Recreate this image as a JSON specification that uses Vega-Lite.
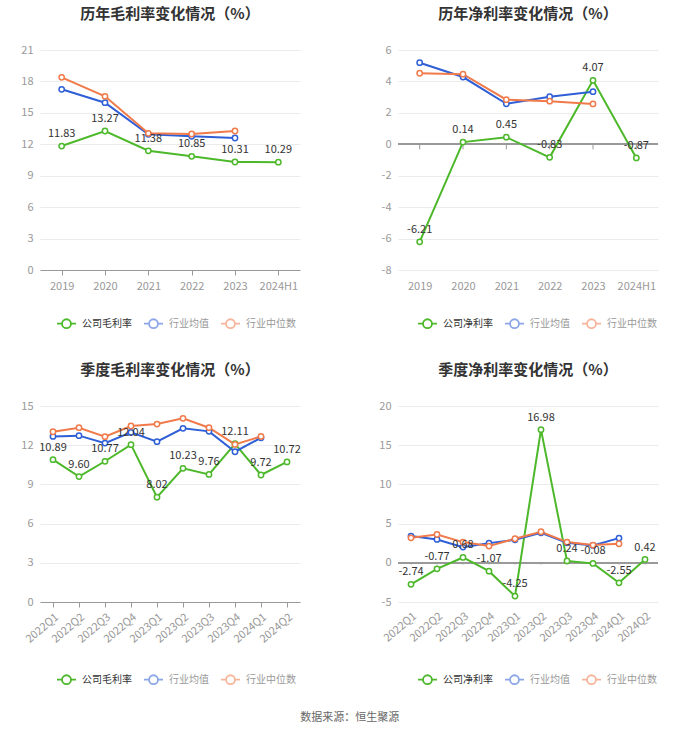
{
  "$schema": "https://vega.github.io/schema/vega-lite/v6.json",
  "background": "white",
  "padding": {"left": 20, "top": 7, "right": 20, "bottom": 8},
  "config": {
    "font": "Noto Sans CJK SC",
    "locale": {"number": {"decimal": ".", "thousands": ",", "grouping": [3], "currency": ["", ""], "minus": "-"}},
    "view": {"stroke": null},
    "legend": {
      "orient": "none",
      "direction": "horizontal",
      "title": null,
      "symbolType": "M-1,0L-0.47,0M0.47,0L1,0M0.47,0A0.47,0.47,0,1,1,-0.47,0A0.47,0.47,0,1,1,0.47,0",
      "symbolSize": 361,
      "symbolStrokeWidth": 1.8,
      "labelFontSize": 10,
      "labelColor": "#333",
      "labelOffset": 5,
      "columnPadding": 8,
      "padding": 0
    }
  },
  "title": {"text": "数据来源：恒生聚源", "orient": "bottom", "anchor": "middle", "fontSize": 11, "fontWeight": "normal", "color": "#666", "offset": 24, "dx": 10},
  "datasets": {
    "p1": [
      {"cat": "2019", "series": "公司毛利率", "value": 11.83},
      {"cat": "2020", "series": "公司毛利率", "value": 13.27},
      {"cat": "2021", "series": "公司毛利率", "value": 11.38},
      {"cat": "2022", "series": "公司毛利率", "value": 10.85},
      {"cat": "2023", "series": "公司毛利率", "value": 10.31},
      {"cat": "2024H1", "series": "公司毛利率", "value": 10.29},
      {"cat": "2019", "series": "行业均值", "value": 17.25},
      {"cat": "2020", "series": "行业均值", "value": 15.97},
      {"cat": "2021", "series": "行业均值", "value": 12.95},
      {"cat": "2022", "series": "行业均值", "value": 12.76},
      {"cat": "2023", "series": "行业均值", "value": 12.6},
      {"cat": "2019", "series": "行业中位数", "value": 18.39},
      {"cat": "2020", "series": "行业中位数", "value": 16.58},
      {"cat": "2021", "series": "行业中位数", "value": 13.05},
      {"cat": "2022", "series": "行业中位数", "value": 12.98},
      {"cat": "2023", "series": "行业中位数", "value": 13.27}
    ],
    "p2": [
      {"cat": "2019", "series": "公司净利率", "value": -6.21},
      {"cat": "2020", "series": "公司净利率", "value": 0.14},
      {"cat": "2021", "series": "公司净利率", "value": 0.45},
      {"cat": "2022", "series": "公司净利率", "value": -0.83},
      {"cat": "2023", "series": "公司净利率", "value": 4.07},
      {"cat": "2024H1", "series": "公司净利率", "value": -0.87},
      {"cat": "2019", "series": "行业均值", "value": 5.19},
      {"cat": "2020", "series": "行业均值", "value": 4.28},
      {"cat": "2021", "series": "行业均值", "value": 2.58},
      {"cat": "2022", "series": "行业均值", "value": 3.03},
      {"cat": "2023", "series": "行业均值", "value": 3.35},
      {"cat": "2019", "series": "行业中位数", "value": 4.52},
      {"cat": "2020", "series": "行业中位数", "value": 4.46},
      {"cat": "2021", "series": "行业中位数", "value": 2.84},
      {"cat": "2022", "series": "行业中位数", "value": 2.74},
      {"cat": "2023", "series": "行业中位数", "value": 2.57}
    ],
    "p3": [
      {"cat": "2022Q1", "series": "公司毛利率", "value": 10.89},
      {"cat": "2022Q2", "series": "公司毛利率", "value": 9.6},
      {"cat": "2022Q3", "series": "公司毛利率", "value": 10.77},
      {"cat": "2022Q4", "series": "公司毛利率", "value": 12.04},
      {"cat": "2023Q1", "series": "公司毛利率", "value": 8.02},
      {"cat": "2023Q2", "series": "公司毛利率", "value": 10.23},
      {"cat": "2023Q3", "series": "公司毛利率", "value": 9.76},
      {"cat": "2023Q4", "series": "公司毛利率", "value": 12.11},
      {"cat": "2024Q1", "series": "公司毛利率", "value": 9.72},
      {"cat": "2024Q2", "series": "公司毛利率", "value": 10.72},
      {"cat": "2022Q1", "series": "行业均值", "value": 12.67},
      {"cat": "2022Q2", "series": "行业均值", "value": 12.73},
      {"cat": "2022Q3", "series": "行业均值", "value": 12.16},
      {"cat": "2022Q4", "series": "行业均值", "value": 12.98},
      {"cat": "2023Q1", "series": "行业均值", "value": 12.27},
      {"cat": "2023Q2", "series": "行业均值", "value": 13.29},
      {"cat": "2023Q3", "series": "行业均值", "value": 13.06},
      {"cat": "2023Q4", "series": "行业均值", "value": 11.5},
      {"cat": "2024Q1", "series": "行业均值", "value": 12.57},
      {"cat": "2022Q1", "series": "行业中位数", "value": 13.03},
      {"cat": "2022Q2", "series": "行业中位数", "value": 13.34},
      {"cat": "2022Q3", "series": "行业中位数", "value": 12.65},
      {"cat": "2022Q4", "series": "行业中位数", "value": 13.47},
      {"cat": "2023Q1", "series": "行业中位数", "value": 13.62},
      {"cat": "2023Q2", "series": "行业中位数", "value": 14.06},
      {"cat": "2023Q3", "series": "行业中位数", "value": 13.34},
      {"cat": "2023Q4", "series": "行业中位数", "value": 12.06},
      {"cat": "2024Q1", "series": "行业中位数", "value": 12.67}
    ],
    "p4": [
      {"cat": "2022Q1", "series": "公司净利率", "value": -2.74},
      {"cat": "2022Q2", "series": "公司净利率", "value": -0.77},
      {"cat": "2022Q3", "series": "公司净利率", "value": 0.68},
      {"cat": "2022Q4", "series": "公司净利率", "value": -1.07},
      {"cat": "2023Q1", "series": "公司净利率", "value": -4.25},
      {"cat": "2023Q2", "series": "公司净利率", "value": 16.98},
      {"cat": "2023Q3", "series": "公司净利率", "value": 0.24},
      {"cat": "2023Q4", "series": "公司净利率", "value": -0.08},
      {"cat": "2024Q1", "series": "公司净利率", "value": -2.55},
      {"cat": "2024Q2", "series": "公司净利率", "value": 0.42},
      {"cat": "2022Q1", "series": "行业均值", "value": 3.41},
      {"cat": "2022Q2", "series": "行业均值", "value": 2.98},
      {"cat": "2022Q3", "series": "行业均值", "value": 2.0},
      {"cat": "2022Q4", "series": "行业均值", "value": 2.51},
      {"cat": "2023Q1", "series": "行业均值", "value": 2.94},
      {"cat": "2023Q2", "series": "行业均值", "value": 3.83},
      {"cat": "2023Q3", "series": "行业均值", "value": 2.56},
      {"cat": "2023Q4", "series": "行业均值", "value": 2.21},
      {"cat": "2024Q1", "series": "行业均值", "value": 3.15},
      {"cat": "2022Q1", "series": "行业中位数", "value": 3.19},
      {"cat": "2022Q2", "series": "行业中位数", "value": 3.62},
      {"cat": "2022Q3", "series": "行业中位数", "value": 2.64},
      {"cat": "2022Q4", "series": "行业中位数", "value": 2.13},
      {"cat": "2023Q1", "series": "行业中位数", "value": 3.07},
      {"cat": "2023Q2", "series": "行业中位数", "value": 3.96},
      {"cat": "2023Q3", "series": "行业中位数", "value": 2.64},
      {"cat": "2023Q4", "series": "行业中位数", "value": 2.26},
      {"cat": "2024Q1", "series": "行业中位数", "value": 2.43}
    ]
  },
  "resolve": {"scale": {"color": "independent"}, "legend": {"color": "independent"}},
  "spacing": 356,
  "bounds": "flush",
  "vconcat": [
    {
      "hconcat": [
        {
          "width": 260, "height": 220,
          "title": {"text": "历年毛利率变化情况（%）", "fontSize": 15, "fontWeight": "bold", "color": "#333", "offset": 22, "anchor": "middle"},
          "data": {"name": "p1"},
          "encoding": {
            "x": {"field": "cat", "type": "nominal", "sort": null, "scale": {"type": "point", "padding": 0.5},
                  "axis": {"title": null, "labelAngle": 0, "labelColor": "#999", "labelFontSize": 11, "domainColor": "#999", "tickColor": "#999", "tickSize": 5, "labelPadding": 5, "grid": false}},
            "y": {"field": "value", "type": "quantitative", "scale": {"domain": [0, 21], "nice": false, "zero": false},
                  "axis": {"title": null, "values": [0, 3, 6, 9, 12, 15, 18, 21], "labelColor": "#999", "labelFontSize": 11, "domain": false, "ticks": false, "gridColor": "#ebebeb", "labelPadding": 7}}
          },
          "layer": [
            {"mark": {"type": "line", "strokeWidth": 2},
             "encoding": {"color": {"field": "series", "type": "nominal", "scale": {"domain": ["公司毛利率", "行业均值", "行业中位数"], "range": ["#4cb82a", "#2f5fd6", "#f07a4a"]},
               "legend": {"legendX": 16, "legendY": 263, "encode": {"labels": {"update": {"fill": {"signal": "datum.index === 0 ? '#333' : '#999'"}}}, "symbols": {"update": {"opacity": {"signal": "datum.index === 0 ? 1 : 0.55"}, "fill": {"value": "white"}}}}}}}},
            {"mark": {"type": "point", "shape": "circle", "filled": false, "fill": "white", "size": 28, "strokeWidth": 1.5, "opacity": 1},
             "encoding": {"color": {"field": "series", "type": "nominal"}}},
            {"transform": [{"filter": "datum.series === '公司毛利率'"}],
             "mark": {"type": "text", "dy": -12, "fontSize": 11, "color": "#333"},
             "encoding": {"text": {"field": "value", "type": "quantitative", "format": ".2f"}}}
          ]
        },
        {
          "width": 260, "height": 220,
          "title": {"text": "历年净利率变化情况（%）", "fontSize": 15, "fontWeight": "bold", "color": "#333", "offset": 22, "anchor": "middle"},
          "data": {"name": "p2"},
          "encoding": {
            "x": {"field": "cat", "type": "nominal", "sort": null, "scale": {"type": "point", "padding": 0.5},
                  "axis": {"title": null, "labelAngle": 0, "labelColor": "#999", "labelFontSize": 11, "domain": false, "ticks": false, "labelPadding": 10, "grid": false}},
            "y": {"field": "value", "type": "quantitative", "scale": {"domain": [-8, 6], "nice": false, "zero": false},
                  "axis": {"title": null, "values": [-8, -6, -4, -2, 0, 2, 4, 6], "labelColor": "#999", "labelFontSize": 11, "domain": false, "ticks": false, "gridColor": "#ebebeb", "labelPadding": 7}}
          },
          "layer": [
            {"mark": {"type": "rule", "color": "#999", "strokeWidth": 1}, "encoding": {"x": {"value": 0}, "x2": {"value": 260}, "y": {"datum": 0}}},
            {"transform": [{"filter": "datum.series === '公司净利率'"}],
             "mark": {"type": "rule", "color": "#999", "strokeWidth": 1}, "encoding": {"y": {"datum": 0}, "y2": {"datum": -0.32}}},
            {"mark": {"type": "line", "strokeWidth": 2},
             "encoding": {"color": {"field": "series", "type": "nominal", "scale": {"domain": ["公司净利率", "行业均值", "行业中位数"], "range": ["#4cb82a", "#2f5fd6", "#f07a4a"]},
               "legend": {"legendX": 19, "legendY": 263, "encode": {"labels": {"update": {"fill": {"signal": "datum.index === 0 ? '#333' : '#999'"}}}, "symbols": {"update": {"opacity": {"signal": "datum.index === 0 ? 1 : 0.55"}, "fill": {"value": "white"}}}}}}}},
            {"mark": {"type": "point", "shape": "circle", "filled": false, "fill": "white", "size": 28, "strokeWidth": 1.5, "opacity": 1},
             "encoding": {"color": {"field": "series", "type": "nominal"}}},
            {"transform": [{"filter": "datum.series === '公司净利率'"}],
             "mark": {"type": "text", "dy": -12, "fontSize": 11, "color": "#333"},
             "encoding": {"text": {"field": "value", "type": "quantitative", "format": ".2f"}}}
          ]
        }
      ],
      "spacing": 98,
      "bounds": "flush",
      "resolve": {"scale": {"color": "independent"}, "legend": {"color": "independent"}}
    },
    {
      "hconcat": [
        {
          "width": 260, "height": 196,
          "title": {"text": "季度毛利率变化情况（%）", "fontSize": 15, "fontWeight": "bold", "color": "#333", "offset": 22, "anchor": "middle"},
          "data": {"name": "p3"},
          "encoding": {
            "x": {"field": "cat", "type": "nominal", "sort": null, "scale": {"type": "point", "padding": 0.5},
                  "axis": {"title": null, "labelAngle": -40, "labelColor": "#999", "labelFontSize": 11, "domainColor": "#999", "tickColor": "#999", "tickSize": 5, "labelPadding": 4, "grid": false}},
            "y": {"field": "value", "type": "quantitative", "scale": {"domain": [0, 15], "nice": false, "zero": false},
                  "axis": {"title": null, "values": [0, 3, 6, 9, 12, 15], "labelColor": "#999", "labelFontSize": 11, "domain": false, "ticks": false, "gridColor": "#ebebeb", "labelPadding": 7}}
          },
          "layer": [
            {"mark": {"type": "line", "strokeWidth": 2},
             "encoding": {"color": {"field": "series", "type": "nominal", "scale": {"domain": ["公司毛利率", "行业均值", "行业中位数"], "range": ["#4cb82a", "#2f5fd6", "#f07a4a"]},
               "legend": {"legendX": 16, "legendY": 263, "encode": {"labels": {"update": {"fill": {"signal": "datum.index === 0 ? '#333' : '#999'"}}}, "symbols": {"update": {"opacity": {"signal": "datum.index === 0 ? 1 : 0.55"}, "fill": {"value": "white"}}}}}}}},
            {"mark": {"type": "point", "shape": "circle", "filled": false, "fill": "white", "size": 28, "strokeWidth": 1.5, "opacity": 1},
             "encoding": {"color": {"field": "series", "type": "nominal"}}},
            {"transform": [{"filter": "datum.series === '公司毛利率'"}],
             "mark": {"type": "text", "dy": -12, "fontSize": 11, "color": "#333"},
             "encoding": {"text": {"field": "value", "type": "quantitative", "format": ".2f"}}}
          ]
        },
        {
          "width": 260, "height": 196,
          "title": {"text": "季度净利率变化情况（%）", "fontSize": 15, "fontWeight": "bold", "color": "#333", "offset": 22, "anchor": "middle"},
          "data": {"name": "p4"},
          "encoding": {
            "x": {"field": "cat", "type": "nominal", "sort": null, "scale": {"type": "point", "padding": 0.5},
                  "axis": {"title": null, "labelAngle": -40, "labelColor": "#999", "labelFontSize": 11, "domain": false, "ticks": false, "labelPadding": 8, "grid": false}},
            "y": {"field": "value", "type": "quantitative", "scale": {"domain": [-5, 20], "nice": false, "zero": false},
                  "axis": {"title": null, "values": [-5, 0, 5, 10, 15, 20], "labelColor": "#999", "labelFontSize": 11, "domain": false, "ticks": false, "gridColor": "#ebebeb", "labelPadding": 7}}
          },
          "layer": [
            {"mark": {"type": "rule", "color": "#999", "strokeWidth": 1}, "encoding": {"x": {"value": 0}, "x2": {"value": 260}, "y": {"datum": 0}}},
            {"transform": [{"filter": "datum.series === '公司净利率'"}],
             "mark": {"type": "rule", "color": "#999", "strokeWidth": 1}, "encoding": {"y": {"datum": 0}, "y2": {"datum": -0.22}}},
            {"mark": {"type": "line", "strokeWidth": 2},
             "encoding": {"color": {"field": "series", "type": "nominal", "scale": {"domain": ["公司净利率", "行业均值", "行业中位数"], "range": ["#4cb82a", "#2f5fd6", "#f07a4a"]},
               "legend": {"legendX": 19, "legendY": 263, "encode": {"labels": {"update": {"fill": {"signal": "datum.index === 0 ? '#333' : '#999'"}}}, "symbols": {"update": {"opacity": {"signal": "datum.index === 0 ? 1 : 0.55"}, "fill": {"value": "white"}}}}}}}},
            {"mark": {"type": "point", "shape": "circle", "filled": false, "fill": "white", "size": 28, "strokeWidth": 1.5, "opacity": 1},
             "encoding": {"color": {"field": "series", "type": "nominal"}}},
            {"transform": [{"filter": "datum.series === '公司净利率'"}],
             "mark": {"type": "text", "dy": -12, "fontSize": 11, "color": "#333"},
             "encoding": {"text": {"field": "value", "type": "quantitative", "format": ".2f"}}}
          ]
        }
      ],
      "spacing": 98,
      "bounds": "flush",
      "resolve": {"scale": {"color": "independent"}, "legend": {"color": "independent"}}
    }
  ]
}
